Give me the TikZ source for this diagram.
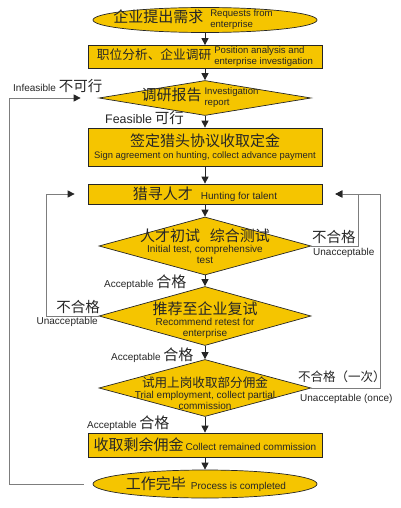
\documentclass[tikz,border=0pt]{standalone}
\usepackage{fontspec}
\setmainfont{Liberation Sans}
\newfontfamily\cjk{Noto Sans CJK SC}
\usepackage{tikz}
\usetikzlibrary{shapes.geometric,arrows.meta,positioning}
\definecolor{gold}{RGB}{245,197,0}
\definecolor{loopgray}{RGB}{125,125,125}
\newcommand{\zh}[2]{{\cjk\fontsize{#1}{#1}\selectfont #2}}
\newcommand{\twoline}[2]{{\fontsize{9.6}{11.4}\selectfont\begin{tabular}{@{}l@{}}#1\\#2\end{tabular}}}
\tikzset{
    stepbox/.style={
        draw=black!85,
        line width=0.7pt,
        fill=gold,
        minimum width=234pt,
        inner sep=0pt
    },
    endcap/.style={
        ellipse,
        draw=black!85,
        line width=0.7pt,
        fill=gold,
        minimum width=224pt,
        inner sep=0pt
    },
    checkdia/.style={
        diamond,
        draw=black!85,
        line width=0.7pt,
        fill=gold,
        minimum width=212pt,
        inner sep=0pt
    },
    % labels beside the loops
    note/.style={inner sep=0pt},
    mainarrow/.style={
        line width=0.8pt,
        black!85,
        -{Triangle[length=7pt, width=7pt]}
    },
    backarrow/.style={
        line width=0.8pt,
        loopgray,
        -{Triangle[length=7pt, width=7pt, color=black!85]}
    }
}

\begin{document}
\begin{tikzpicture}[x=1pt, y=-1pt,
    every node/.style={font=\fontsize{10}{11}\selectfont, text=black!85}]
    \useasboundingbox (0,0) rectangle (400,508);

    \node[endcap, minimum height=25pt] (start) at (205,20) {};
    \node (start-t) at (193,20) {\zh{15}{企业提出需求}\hspace{7pt}\twoline{Requests from}{enterprise}};

    \node[stepbox, minimum height=23pt] (analysis) at (205,57) {\zh{12.7}{职位分析、企业调研}\hspace{3pt}\twoline{Position analysis and}{enterprise investigation}};

    \node[checkdia, minimum height=35pt] (report) at (205,98) {};
    \node (report-t) at (200,98) {\zh{15}{调研报告}\hspace{3pt}\twoline{Investigation}{report}};

    \node[stepbox, minimum height=38pt, align=center] (sign) at (205,147) {\zh{15}{签定猎头协议收取定金}\\[1pt]{\fontsize{9.4}{11}\selectfont Sign agreement on hunting, collect advance payment}};

    \node[stepbox, minimum height=20pt] (hunt) at (205,194) {\zh{15}{猎寻人才}\hspace{8pt}Hunting for talent};

    \node[checkdia, minimum height=58pt] (firsttest) at (205,246) {};
    \node[align=center] (firsttest-t) at (205,246) {\zh{15}{人才初试\hspace{10pt}综合测试}\\Initial test, comprehensive\\test};

    \node[checkdia, minimum height=59pt] (recommend) at (205,316) {};
    \node[align=center] (recommend-t) at (205,320) {\zh{15}{推荐至企业复试}\\Recommend retest for\\enterprise};

    \node[checkdia, minimum height=57pt] (trial) at (205,388) {};
    \node[align=center] (trial-t) at (205,393) {\zh{12.6}{试用上岗收取部分佣金}\\Trial employment, collect partial\\commission};

    \node[stepbox, minimum height=24pt] (remain) at (205,445) {\zh{15}{收取剩余佣金}\hspace{2pt}Collect remained commission};

    \node[endcap, minimum height=28pt] (finish) at (205,484) {};
    \node (finish-t) at (206,484) {\zh{15}{工作完毕}\hspace{5pt}Process is completed};

    \draw[mainarrow] (start.south) -- (analysis.north);
    \draw[mainarrow] (analysis.south) -- (report.north);
    \draw[mainarrow] (report.south) -- (sign.north);
    \draw[mainarrow] (sign.south) -- (hunt.north);
    \draw[mainarrow] (hunt.south) -- (firsttest.north);
    \draw[mainarrow] (firsttest.south) -- (recommend.north);
    \draw[mainarrow] (recommend.south) -- (trial.north);
    \draw[mainarrow] (trial.south) -- (remain.north);
    \draw[mainarrow] (remain.south) -- (finish.north);

    \draw[backarrow, shorten <=9pt, shorten >=18pt] (finish.west) -- ++(-83,0) |- (report.west);
    \draw[backarrow, shorten >=13pt] (firsttest.east) -- ++(47,0) |- (hunt.east);
    \draw[backarrow, shorten >=13pt] (trial.east) -- ++(69,0) |- (hunt.east);
    \draw[backarrow, shorten >=13pt] (recommend.west) -- ++(-52,0) |- (hunt.west);

    \node[note, anchor=west] (infeasible) at (13,86) {Infeasible \zh{14.5}{不可行}};
    \node[note, anchor=west] (feasible) at (105,118) {{\fontsize{12.4}{14}\selectfont Feasible} \zh{14.5}{可行}};
    \node[note, anchor=west] (reject1) at (312,237) {\zh{14.5}{不合格}};
    \node[note, anchor=west] (reject1-en) at (313,253) {Unacceptable};
    \node[note, anchor=west] (pass1) at (104,282) {Acceptable \zh{15}{合格}};
    \node[note, anchor=east] (reject2) at (100,307) {\zh{14.5}{不合格}};
    \node[note, anchor=east] (reject2-en) at (98,322) {Unacceptable};
    \node[note, anchor=west] (pass2) at (111,355) {Acceptable \zh{15}{合格}};
    \node[note, anchor=west] (reject3) at (298,377) {\zh{12.5}{不合格（一次）}};
    \node[note, anchor=west] (reject3-en) at (300,399) {Unacceptable (once)};
    \node[note, anchor=west] (pass3) at (87,423) {Acceptable \zh{15}{合格}};
\end{tikzpicture}
\end{document}
